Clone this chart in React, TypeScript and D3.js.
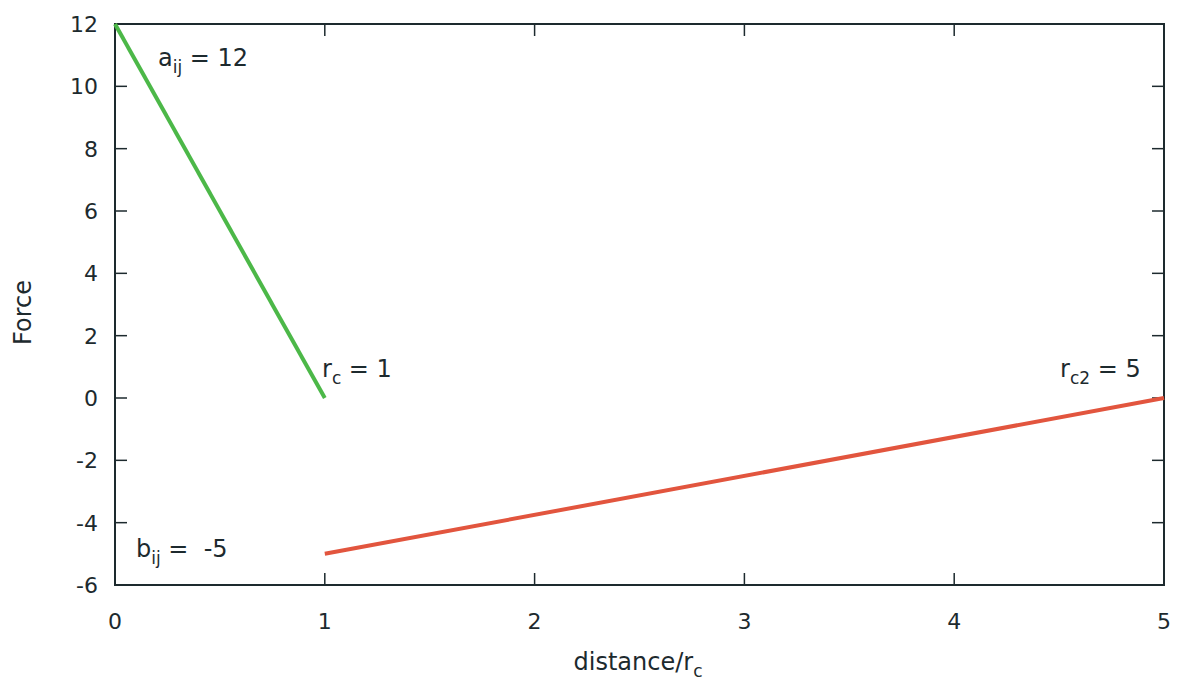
import React from 'react';
import * as d3 from 'd3';

const xTicks = [0, 1, 2, 3, 4, 5];
const yTicks = [-6, -4, -2, 0, 2, 4, 6, 8, 10, 12];
const conservative = [
  { x: 0, y: 12 },
  { x: 1, y: 0 },
];
const attractive = [
  { x: 1, y: -5 },
  { x: 5, y: 0 },
];

const W = 1181;
const H = 680;
const left = 115;
const right = 1164;
const top = 24;
const bottom = 585;
const font = 'DejaVu Sans, sans-serif';
const ink = '#1d2a2e';
const fs = 24;
const sub = 17;

export default function App() {
  const x = d3.scaleLinear().domain([0, 5]).range([left, right]);
  const y = d3.scaleLinear().domain([-6, 12]).range([bottom, top]);
  const line = d3
    .line<{ x: number; y: number }>()
    .x((d) => x(d.x))
    .y((d) => y(d.y));
  const tick = 12;

  return (
    <svg width={W} height={H} style={{ position: 'absolute', left: 0, top: 0 }} fontFamily={font}>
      <rect width={W} height={H} fill="#fff" />
      {xTicks.map((t) => (
        <g key={'x' + t}>
          <line x1={x(t)} x2={x(t)} y1={bottom} y2={bottom - tick} stroke={ink} strokeWidth={1.5} />
          <line x1={x(t)} x2={x(t)} y1={top} y2={top + tick} stroke={ink} strokeWidth={1.5} />
          <text x={x(t)} y={629} textAnchor="middle" fontSize={22} fill={ink}>
            {t}
          </text>
        </g>
      ))}
      {yTicks.map((t) => (
        <g key={'y' + t}>
          <line x1={left} x2={left + tick} y1={y(t)} y2={y(t)} stroke={ink} strokeWidth={1.5} />
          <line x1={right} x2={right - tick} y1={y(t)} y2={y(t)} stroke={ink} strokeWidth={1.5} />
          <text x={98} y={y(t) + 8} textAnchor="end" fontSize={22} fill={ink}>
            {t}
          </text>
        </g>
      ))}
      <rect x={left} y={top} width={right - left} height={bottom - top} fill="none" stroke={ink} strokeWidth={2} />
      <path d={line(conservative) || ''} fill="none" stroke="#4cb848" strokeWidth={4} />
      <path d={line(attractive) || ''} fill="none" stroke="#e2553e" strokeWidth={4} />

      <text x={158} y={66} fontSize={fs} fill={ink}>
        a<tspan dy={7} fontSize={sub}>ij</tspan>
        <tspan dy={-7}> = 12</tspan>
      </text>
      <text x={322} y={377} fontSize={fs} fill={ink}>
        r<tspan dy={7} fontSize={sub}>c</tspan>
        <tspan dy={-7}> = 1</tspan>
      </text>
      <text x={1060} y={377} fontSize={fs} fill={ink}>
        r<tspan dy={7} fontSize={sub}>c2</tspan>
        <tspan dy={-7}> = 5</tspan>
      </text>
      <text x={136} y={557} fontSize={fs} fill={ink} style={{ whiteSpace: 'pre' }}>
        b<tspan dy={7} fontSize={sub}>ij</tspan>
        <tspan dy={-7}>{' =  -5'}</tspan>
      </text>

      <text x={638} y={670} textAnchor="middle" fontSize={fs} fill={ink}>
        distance/r<tspan dy={7} fontSize={sub}>c</tspan>
      </text>
      <text
        transform={`translate(31, ${(top + bottom) / 2 + 8}) rotate(-90)`}
        textAnchor="middle"
        fontSize={fs}
        fill={ink}
      >
        Force
      </text>
    </svg>
  );
}
